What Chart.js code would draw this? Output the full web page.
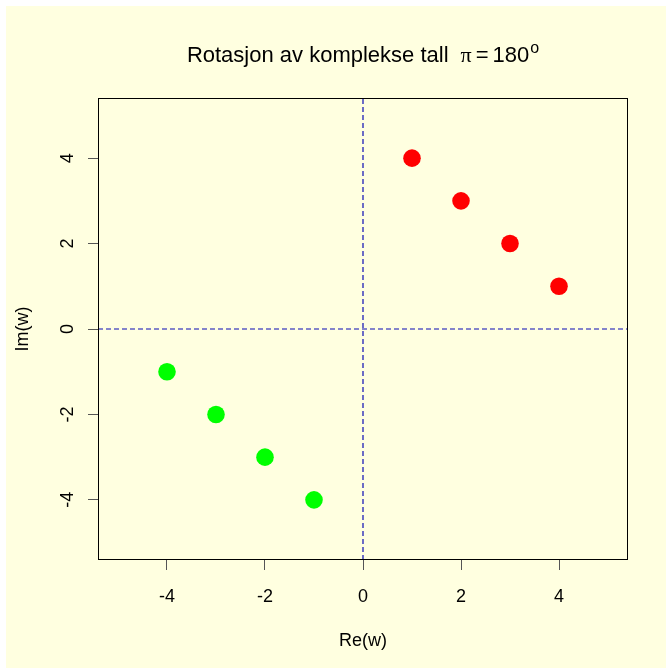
<!DOCTYPE html>
<html>
<head>
<meta charset="utf-8">
<script src="https://cdn.jsdelivr.net/npm/chart.js@4/dist/chart.umd.min.js"></script>
<style>
  html, body { margin: 0; padding: 0; background: #ffffff; }
  canvas { display: block; }
</style>
</head>
<body>
<canvas id="c" width="666" height="668"></canvas>
<script>
// Original points (first quadrant) and the same points rotated by 180 degrees
const origRe = [1, 2, 3, 4];
const origIm = [4, 3, 2, 1];
const rotRe = [-4, -3, -2, -1];
const rotIm = [-1, -2, -3, -4];

// Axis limits and tick marks
const axisLimit = 5.408;
const tickValues = [-4, -2, 0, 2, 4];
const tickLabels = ['-4', '-2', '0', '2', '4'];

const titleMain = 'Rotasjon av komplekse tall';
const titleSym = '\u03c0';
const titleRhs = '180';
const titleSup = 'o';

const FONT = '"Liberation Sans", Arial, Helvetica, sans-serif';
const BG = '#ffffe0';
const AXIS_LINE = '#0a0ab4';

function toPoints(xs, ys) {
  return xs.map((x, i) => ({ x: x, y: ys[i] }));
}

// Paints the page background, the plot box and the title
const framePlugin = {
  id: 'frame',
  beforeDraw(chart) {
    const ctx = chart.ctx;
    ctx.save();
    ctx.fillStyle = '#ffffff';
    ctx.fillRect(0, 0, chart.width, chart.height);
    ctx.fillStyle = BG;
    ctx.fillRect(6, 6, chart.width - 6, chart.height - 6);
    ctx.restore();
  },
  afterDraw(chart) {
    const ctx = chart.ctx;
    const a = chart.chartArea;
    ctx.save();
    ctx.strokeStyle = '#000000';
    ctx.lineWidth = 1;
    ctx.strokeRect(Math.round(a.left) + 0.5, Math.round(a.top) + 0.5,
                   Math.round(a.right - a.left) - 1, Math.round(a.bottom - a.top) - 1);

    // Title: plain text, then pi = 180 with a raised "o"
    const mainFont = '22px ' + FONT;
    const symFont = '22px "Liberation Serif", "Times New Roman", serif';
    const supFont = '16px ' + FONT;
    ctx.font = mainFont;
    const wMain = ctx.measureText(titleMain).width;
    const gap1 = 12;
    ctx.font = symFont;
    const wSym = ctx.measureText(titleSym).width;
    ctx.font = mainFont;
    const wEq = ctx.measureText('=').width;
    const wRhs = ctx.measureText(titleRhs).width;
    ctx.font = supFont;
    const wSup = ctx.measureText(titleSup).width;
    const gapEq = 4;
    const total = wMain + gap1 + wSym + gapEq + wEq + gapEq + wRhs + 1 + wSup;
    let x = (a.left + a.right) / 2 - total / 2;
    const base = 62;
    ctx.fillStyle = '#000000';
    ctx.textBaseline = 'alphabetic';
    ctx.textAlign = 'left';
    ctx.font = mainFont;
    ctx.fillText(titleMain, x, base);
    x += wMain + gap1;
    ctx.font = symFont;
    ctx.fillText(titleSym, x, base);
    x += wSym + gapEq;
    ctx.font = mainFont;
    ctx.fillText('=', x, base);
    x += wEq + gapEq;
    ctx.fillText(titleRhs, x, base);
    x += wRhs + 1;
    ctx.font = supFont;
    ctx.fillText(titleSup, x, base - 9);
    ctx.restore();
  }
};

function keepTicks(scale) {
  scale.ticks = tickValues.map(v => ({ value: v }));
}

new Chart(document.getElementById('c'), {
  type: 'scatter',
  data: {
    datasets: [
      {
        label: 'Re = 0',
        data: [{ x: 0, y: -axisLimit }, { x: 0, y: axisLimit }],
        showLine: true,
        borderColor: AXIS_LINE,
        borderWidth: 1.2,
        borderDash: [5, 3],
        pointRadius: 0,
        fill: false
      },
      {
        label: 'Im = 0',
        data: [{ x: -axisLimit, y: 0 }, { x: axisLimit, y: 0 }],
        showLine: true,
        borderColor: AXIS_LINE,
        borderWidth: 1.2,
        borderDash: [5, 3],
        pointRadius: 0,
        fill: false
      },
      {
        label: 'z',
        data: toPoints(origRe, origIm),
        backgroundColor: '#ff0000',
        borderWidth: 0,
        pointRadius: 8.8,
        pointHoverRadius: 8.8
      },
      {
        label: 'w',
        data: toPoints(rotRe, rotIm),
        backgroundColor: '#00ff00',
        borderWidth: 0,
        pointRadius: 8.8,
        pointHoverRadius: 8.8
      }
    ]
  },
  options: {
    responsive: false,
    animation: false,
    events: [],
    layout: { padding: { top: 98, right: 38, left: 0, bottom: 0 } },
    plugins: {
      legend: { display: false },
      title: { display: false },
      tooltip: { enabled: false }
    },
    scales: {
      x: {
        type: 'linear',
        min: -axisLimit,
        max: axisLimit,
        afterBuildTicks: keepTicks,
        afterFit(scale) {
          scale.height = 108;
          scale.paddingLeft = 0; scale.paddingRight = 0;
          scale.paddingTop = 0; scale.paddingBottom = 0;
        },
        grid: { drawOnChartArea: false, drawTicks: true, tickLength: 10, color: '#555555', lineWidth: 1 },
        border: { display: false },
        ticks: {
          color: '#000000',
          font: { family: FONT, size: 18 },
          padding: 16,
          maxRotation: 0,
          autoSkip: false,
          callback: (v) => tickLabels[tickValues.indexOf(v)]
        },
        title: {
          display: true,
          text: 'Re(w)',
          color: '#000000',
          font: { family: FONT, size: 18 },
          padding: { top: 0, bottom: 16 }
        }
      },
      y: {
        type: 'linear',
        min: -axisLimit,
        max: axisLimit,
        afterBuildTicks: keepTicks,
        afterFit(scale) {
          scale.width = 98;
          scale.paddingLeft = 0; scale.paddingRight = 0;
          scale.paddingTop = 0; scale.paddingBottom = 0;
        },
        grid: { drawOnChartArea: false, drawTicks: true, tickLength: 10, color: '#555555', lineWidth: 1 },
        border: { display: false },
        ticks: {
          color: '#000000',
          font: { family: FONT, size: 18 },
          padding: 12,
          minRotation: 90,
          maxRotation: 90,
          crossAlign: 'center',
          autoSkip: false,
          callback: (v) => tickLabels[tickValues.indexOf(v)]
        },
        title: {
          display: true,
          text: 'Im(w)',
          color: '#000000',
          font: { family: FONT, size: 18 },
          padding: { top: 12, bottom: 0 }
        }
      }
    }
  },
  plugins: [framePlugin]
});
</script>
</body>
</html>
